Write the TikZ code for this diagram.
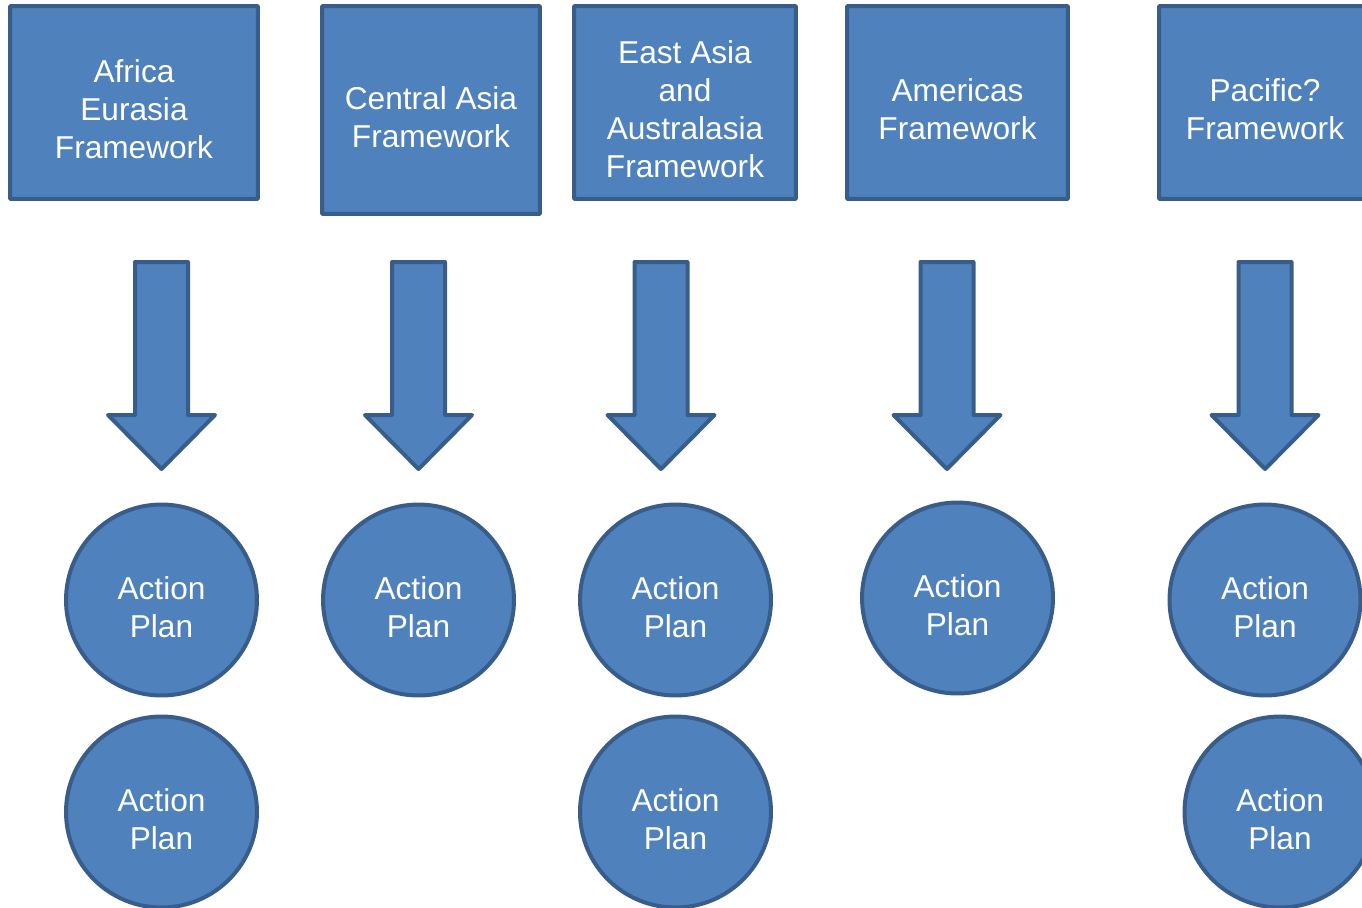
\documentclass[tikz,border=0pt]{standalone}
\usepackage{fontspec}
\setmainfont{Liberation Sans}
\usepackage{tikz}
\usetikzlibrary{positioning,calc}
\usepackage{xcolor}
\definecolor{planfill}{HTML}{4F81BD}
\definecolor{planline}{HTML}{385D8A}

\begin{document}
\begin{tikzpicture}[x=0.02cm, y=-0.02cm,
    every node/.style={font=\fontsize{18}{21.6}\selectfont, text=white, align=center},
    every label/.style={yshift=-0.14cm},
    frame/.style={draw=planline, fill=planfill, line width=0.08cm, rounded corners=0.5pt, inner sep=0pt},
    plan/.style={circle, draw=planline, fill=planfill, line width=0.08cm, minimum size=3.82cm, inner sep=0pt,
        label={center:Action\\Plan}},
    blockarrow/.style={draw=planline, fill=planfill, line width=0.08cm, line join=round}]
            \useasboundingbox (0,0) rectangle (1362,907);
            \clip (0,0) rectangle (1362,907);

            % Frameworks
            \node[frame, minimum width=4.96cm, minimum height=3.86cm, label={center:Africa\\Eurasia\\Framework}] (africa) at (134,102.5) {};
            \node[frame, minimum width=4.36cm, minimum height=4.16cm, label={center:Central Asia\\Framework}] (casia) at (431,110) {};
            \node[frame, minimum width=4.44cm, minimum height=3.86cm, label={center:East Asia\\and\\Australasia\\Framework}] (easia) at (685,102.5) {};
            \node[frame, minimum width=4.42cm, minimum height=3.86cm, label={center:Americas\\Framework}] (americas) at (957.5,102.5) {};
            \node[frame, minimum width=4.24cm, minimum height=3.86cm, label={center:Pacific?\\Framework}] (pacific) at (1265,102.5) {};

            % Arrows
            \draw[blockarrow] (135,262) -- ++(53,0) -- ++(0,153) -- ++(27,0) -- ++(-53.5,54) -- ++(-53.5,-54) -- ++(27,0) -- cycle;
            \draw[blockarrow] (392,262) -- ++(53,0) -- ++(0,153) -- ++(27,0) -- ++(-53.5,54) -- ++(-53.5,-54) -- ++(27,0) -- cycle;
            \draw[blockarrow] (634.5,262) -- ++(53,0) -- ++(0,153) -- ++(27,0) -- ++(-53.5,54) -- ++(-53.5,-54) -- ++(27,0) -- cycle;
            \draw[blockarrow] (920.5,262) -- ++(53,0) -- ++(0,153) -- ++(27,0) -- ++(-53.5,54) -- ++(-53.5,-54) -- ++(27,0) -- cycle;
            \draw[blockarrow] (1238.5,262) -- ++(53,0) -- ++(0,153) -- ++(27,0) -- ++(-53.5,54) -- ++(-53.5,-54) -- ++(27,0) -- cycle;

            % Action plans - first row
            \node[plan] (africa1) at (161.5,600) {};
            \node[plan] (casia1) at (418.5,600) {};
            \node[plan] (easia1) at (675.5,600) {};
            \node[plan] (americas1) at (957.5,598) {};
            \node[plan] (pacific1) at (1265,600) {};

            % Action plans - second row
            \node[plan] (africa2) at (161.5,812) {};
            \node[plan] (easia2) at (675.5,812) {};
            \node[plan] (pacific2) at (1280,812) {};
        \end{tikzpicture}
\end{document}
